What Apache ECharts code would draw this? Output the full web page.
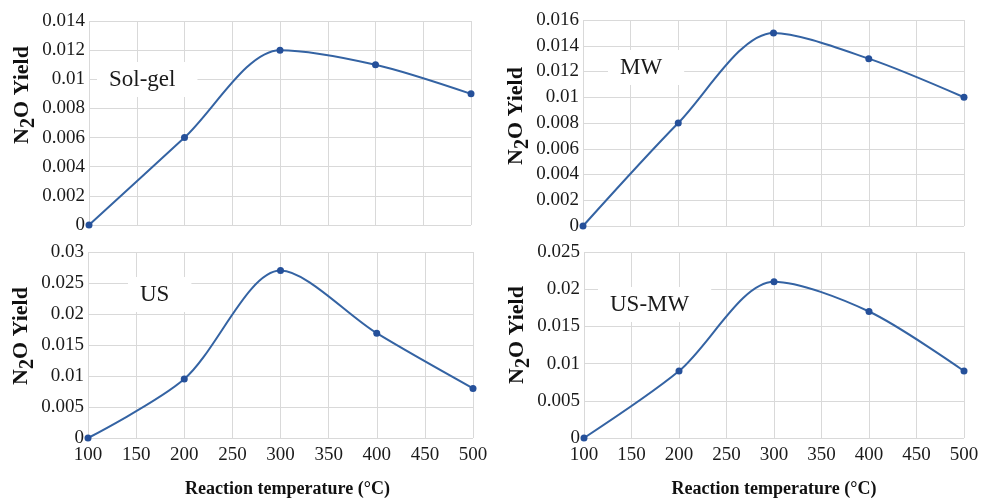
<!DOCTYPE html>
<html>
<head>
<meta charset="utf-8">
<script src="https://cdn.jsdelivr.net/npm/echarts@6/dist/echarts.min.js"></script>
<style>
  html, body { margin: 0; padding: 0; background: #fff; }
  #main { width: 985px; height: 499px; }
</style>
</head>
<body>
<div id="main"></div>
<script>
// temperatures (°C)
var temps = [100, 200, 300, 400, 500];
// N2O yield per catalyst prep method
var solGel = [0, 0.006, 0.012, 0.011, 0.009];
var mw = [0, 0.008, 0.015, 0.013, 0.010];
var us = [0, 0.0095, 0.027, 0.0169, 0.008];
var usMw = [0, 0.009, 0.021, 0.017, 0.009];
var panelNames = ['Sol-gel', 'MW', 'US', 'US-MW'];
var yMax = [0.014, 0.016, 0.03, 0.025];
var yStep = [0.002, 0.002, 0.005, 0.005];

var serif = '"Liberation Serif", "DejaVu Serif", serif';
var lineColor = '#3463a3';
var gridColor = '#d9d9d9';

var chart = echarts.init(document.getElementById('main'));

var grids = [
  { left: 89, width: 382, top: 21, height: 204 },
  { left: 583, width: 381, top: 20, height: 206 },
  { left: 88, width: 385, top: 252, height: 190 },
  { left: 584, width: 380, top: 252, height: 191 }
];

var allData = [solGel, mw, us, usMw];
// shift of the rotated y title upward (px)
var nameShift = [56, 14, 18, 20];
var nameGaps = [47, 45, 47, 45];

var xAxes = [], yAxes = [], series = [];
for (var i = 0; i < 4; i++) {
  var bottom = i >= 2;
  xAxes.push({
    type: 'value', gridIndex: i, min: 100, max: 500, interval: 50,
    axisLine: { show: false }, axisTick: { show: false },
    axisLabel: { show: bottom, color: '#1a1a1a', fontFamily: serif, fontSize: 19, margin: 8 },
    splitLine: { show: true, lineStyle: { color: gridColor, width: 1 } },
    name: bottom ? 'Reaction temperature (°C)' : '',
    nameLocation: 'middle', nameGap: 42,
    nameTextStyle: {
      fontFamily: serif, fontWeight: 'bold', fontSize: 18, color: '#111',
      padding: [0, 0, 0, i === 2 ? 14 : 0]
    }
  });
  yAxes.push({
    type: 'value', gridIndex: i, min: 0, max: yMax[i], interval: yStep[i],
    axisLine: { show: false }, axisTick: { show: false },
    axisLabel: { color: '#1a1a1a', fontFamily: serif, fontSize: 19, margin: 4 },
    splitLine: { show: true, lineStyle: { color: gridColor, width: 1 } },
    name: '{a|N}{s|2}{a|O Yield}',
    nameLocation: 'middle', nameRotate: 90, nameGap: nameGaps[i],
    nameTextStyle: {
      padding: [0, 0, 0, nameShift[i]],
      rich: {
        a: { fontFamily: serif, fontWeight: 'bold', fontSize: 22, color: '#111', verticalAlign: 'top', lineHeight: 24 },
        s: { fontFamily: serif, fontWeight: 'bold', fontSize: 20, color: '#111', verticalAlign: 'top', lineHeight: 22, padding: [7, 0, 0, 0] }
      }
    }
  });
  series.push({
    type: 'line', xAxisIndex: i, yAxisIndex: i,
    data: temps.map(function (t, k) { return [t, allData[i][k]]; }),
    smooth: 0.3,
    symbol: 'circle', symbolSize: 7,
    lineStyle: { color: lineColor, width: 2 },
    itemStyle: { color: '#25509a' }
  });
}

var labelPos = [
  { left: 97, top: 62 },
  { left: 608, top: 50 },
  { left: 128, top: 277 },
  { left: 598, top: 287 }
];
var titles = panelNames.map(function (n, i) {
  return {
    text: n, left: labelPos[i].left, top: labelPos[i].top,
    backgroundColor: '#fff', padding: [6, 22, 6, 12],
    textStyle: { fontFamily: serif, fontWeight: 'normal', fontSize: 23, color: '#1a1a1a' }
  };
});

chart.setOption({
  animation: false,
  backgroundColor: '#fff',
  title: titles,
  grid: grids,
  xAxis: xAxes,
  yAxis: yAxes,
  series: series
});
</script>
</body>
</html>
